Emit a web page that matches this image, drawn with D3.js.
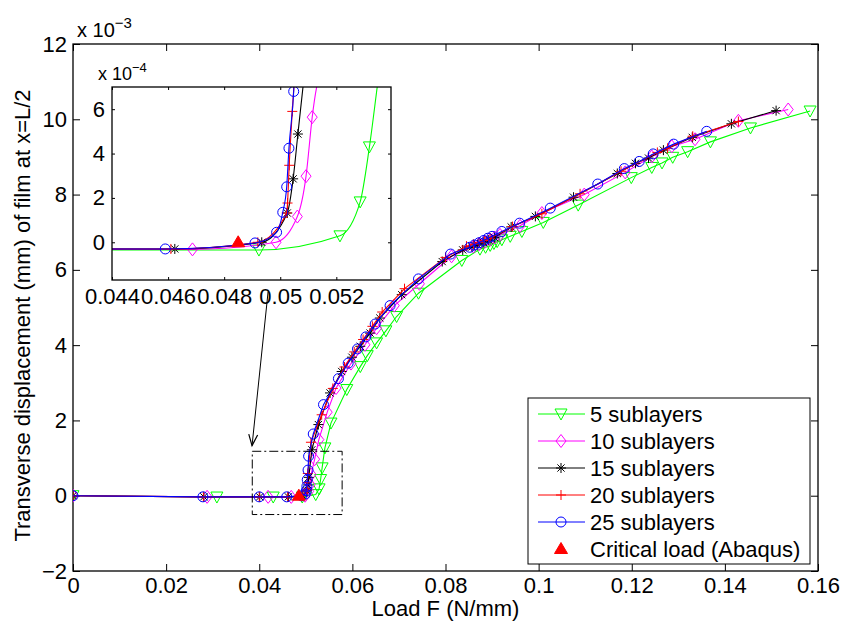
<!DOCTYPE html>
<html>
<head>
<meta charset="utf-8">
<script src="https://cdn.jsdelivr.net/npm/d3@7"></script>
<style>
  body { margin: 0; background: #fff; }
  svg text { font-family: "Liberation Sans", Arial, Helvetica, sans-serif; fill: #000; }
</style>
</head>
<body>
<svg id="chart" width="842" height="626"></svg>
<script>
// ---- Data: load F (N/mm) and mid-span transverse displacement (units of 1e-3 mm) ----
const load5  = [0, 0.0309, 0.0430, 0.04924, 0.05213, 0.05285, 0.05318, 0.0535, 0.0541, 0.0554, 0.0588, 0.0617, 0.0632, 0.0652, 0.0672, 0.0695, 0.0742, 0.0835, 0.0874, 0.0886, 0.0896, 0.0904, 0.0911, 0.0921, 0.0939, 0.0964, 0.1010, 0.1085, 0.1199, 0.1243, 0.1265, 0.1288, 0.1320, 0.1369, 0.1455, 0.1583];
const disp5  = [0, -0.035, -0.035, -0.035, 0.029, 0.182, 0.43, 0.74, 1.27, 1.93, 2.82, 3.43, 3.72, 4.06, 4.38, 4.76, 5.38, 6.25, 6.55, 6.60, 6.65, 6.70, 6.75, 6.80, 6.89, 7.02, 7.26, 7.72, 8.45, 8.72, 8.84, 8.99, 9.14, 9.40, 9.77, 10.22];

const load10 = [0, 0.0288, 0.0419, 0.04687, 0.04985, 0.05061, 0.05092, 0.05114, 0.0519, 0.0528, 0.0546, 0.0565, 0.0597, 0.0627, 0.0652, 0.0690, 0.0744, 0.0813, 0.0860, 0.0872, 0.0884, 0.0896, 0.0906, 0.0917, 0.0960, 0.1007, 0.1098, 0.1186, 0.1243, 0.1286, 0.1336, 0.1429, 0.1536];
const disp10 = [0, -0.03, -0.03, -0.032, 0, 0.116, 0.298, 0.564, 0.97, 1.49, 2.22, 2.86, 3.51, 4.01, 4.45, 5.05, 5.63, 6.36, 6.62, 6.68, 6.74, 6.80, 6.86, 6.93, 7.17, 7.51, 8.00, 8.59, 9.01, 9.28, 9.47, 9.96, 10.26];

const load15 = [0, 0.0281, 0.0401, 0.04624, 0.04934, 0.05025, 0.05046, 0.05063, 0.0513, 0.0527, 0.0552, 0.0577, 0.0599, 0.0617, 0.0638, 0.0659, 0.0706, 0.0793, 0.0837, 0.0857, 0.0869, 0.0881, 0.0893, 0.0905, 0.0941, 0.0993, 0.1075, 0.1169, 0.1208, 0.1236, 0.1268, 0.1330, 0.1414, 0.1510];
const disp15 = [0, -0.03, -0.03, -0.03, 0, 0.132, 0.286, 0.488, 1.22, 1.89, 2.73, 3.30, 3.68, 3.97, 4.32, 4.72, 5.34, 6.22, 6.53, 6.61, 6.67, 6.73, 6.79, 6.86, 7.14, 7.42, 7.93, 8.56, 8.83, 8.97, 9.18, 9.52, 9.88, 10.23];

const load20 = [0, 0.0280, 0.0400, 0.0461, 0.0492, 0.05023, 0.05026, 0.05032, 0.05043, 0.0511, 0.0534, 0.0558, 0.0583, 0.0604, 0.0623, 0.0643, 0.0664, 0.0712, 0.0800, 0.0845, 0.0860, 0.0872, 0.0884, 0.0896, 0.0944, 0.1007, 0.1089, 0.1177, 0.1255, 0.1277, 0.1331, 0.1429];
const disp20 = [0, -0.03, -0.03, -0.03, 0, 0.132, 0.177, 0.347, 0.59, 1.42, 2.15, 2.85, 3.42, 3.82, 4.15, 4.50, 4.88, 5.50, 6.33, 6.63, 6.68, 6.73, 6.78, 6.84, 7.15, 7.49, 8.02, 8.62, 9.12, 9.23, 9.55, 9.94];

const load25 = [0, 0.0279, 0.0400, 0.0459, 0.0491, 0.04987, 0.05009, 0.05023, 0.05031, 0.05048, 0.0506, 0.0516, 0.0538, 0.0570, 0.0591, 0.0611, 0.0629, 0.0649, 0.0681, 0.0742, 0.0811, 0.0852, 0.0862, 0.0872, 0.0882, 0.0891, 0.0900, 0.0921, 0.0959, 0.1025, 0.1127, 0.1184, 0.1216, 0.1246, 0.1290, 0.1361];
const disp25 = [0, -0.03, -0.03, -0.03, -0.003, 0.045, 0.135, 0.25, 0.424, 0.68, 1.05, 1.64, 2.42, 3.11, 3.52, 3.90, 4.22, 4.56, 5.05, 5.76, 6.42, 6.60, 6.66, 6.72, 6.78, 6.84, 6.89, 7.02, 7.24, 7.64, 8.28, 8.69, 8.88, 9.08, 9.34, 9.68];

// Critical buckling load from the Abaqus model
const criticalLoad = [0.0485];
const criticalDisp = [0];

const seriesLabels = ["5 sublayers", "10 sublayers", "15 sublayers", "20 sublayers", "25 sublayers"];
const criticalLabel = "Critical load (Abaqus)";

// Axis ticks
const xTicks = [0, 0.02, 0.04, 0.06, 0.08, 0.1, 0.12, 0.14, 0.16];
const yTicks = [-2, 0, 2, 4, 6, 8, 10, 12];
const insetXTicks = [0.044, 0.046, 0.048, 0.05, 0.052];
const insetYTicks = [0, 0.2, 0.4, 0.6];   // ×1e-3, labelled in units of 1e-4

// Zoom window marked on the main plot (load range, displacement range)
const zoomBoxLoad = [0.0385, 0.0578];
const zoomBoxDisp = [-0.50, 1.18];

// ---- Styles ----
const seriesStyle = [
  { color: "#00ff00", marker: "triangleDown" },
  { color: "#ff00ff", marker: "diamond" },
  { color: "#000000", marker: "star" },
  { color: "#ff0000", marker: "plus" },
  { color: "#0000ff", marker: "circle" }
];

const series = [
  [load5, disp5], [load10, disp10], [load15, disp15], [load20, disp20], [load25, disp25]
].map(([L, D], i) => ({
  label: seriesLabels[i],
  style: seriesStyle[i],
  points: L.map((f, j) => ({ f, d: D[j] }))
}));
const critical = criticalLoad.map((f, j) => ({ f, d: criticalDisp[j] }));

function markerPath(type) {
  switch (type) {
    case "triangleDown": return "M-6,-5L6,-5L0,6Z";
    case "diamond": return "M0,-6.5L5,0L0,6.5L-5,0Z";
    case "star": return "M0,-5V5M-5,0H5M-3.6,-3.6L3.6,3.6M-3.6,3.6L3.6,-3.6";
    case "plus": return "M0,-5V5M-5,0H5";
    case "circle": return "M5,0A5,5 0 1,1 -5,0A5,5 0 1,1 5,0Z";
    case "triangleUp": return "M0,-6.5L6.5,4.5L-6.5,4.5Z";
  }
}

const svg = d3.select("#chart");
const FS = 22;

// ---- Main axes ----
const M = { left: 73, right: 818, top: 44, bottom: 571 };
const x = d3.scaleLinear().domain([0, 0.16]).range([M.left, M.right]);
const y = d3.scaleLinear().domain([-2, 12]).range([M.bottom, M.top]);

svg.append("defs").append("clipPath").attr("id", "clipMain")
  .append("rect").attr("x", M.left).attr("y", M.top)
  .attr("width", M.right - M.left).attr("height", M.bottom - M.top);

const fmt = d3.format("~g");

function drawAxes(g, xs, ys, xt, yt, xfmt, yfmt, tick, padX, padY) {
  const [x0, x1] = xs.range(), [y0, y1] = ys.range();
  g.append("g").attr("transform", `translate(0,${y0})`)
    .call(d3.axisBottom(xs).tickValues(xt).tickFormat(xfmt).tickSize(-tick).tickPadding(padX));
  g.append("g").attr("transform", `translate(${x0},0)`)
    .call(d3.axisLeft(ys).tickValues(yt).tickFormat(yfmt).tickSize(-tick).tickPadding(padY));
  g.append("g").attr("transform", `translate(0,${y1})`)
    .call(d3.axisTop(xs).tickValues(xt).tickFormat("").tickSize(-tick));
  g.append("g").attr("transform", `translate(${x1},0)`)
    .call(d3.axisRight(ys).tickValues(yt).tickFormat("").tickSize(-tick));
  g.selectAll(".domain").remove();
  g.selectAll(".tick line").attr("stroke", "#000").attr("stroke-width", 1);
  g.selectAll(".tick text").attr("font-size", FS).attr("font-family", null).attr("fill", "#000");
  g.append("rect").attr("x", x0).attr("y", y1).attr("width", x1 - x0).attr("height", y0 - y1)
    .attr("fill", "none").attr("stroke", "#000").attr("stroke-width", 1.3);
}

const mainAxes = svg.append("g");
drawAxes(mainAxes, x, y, xTicks, yTicks, fmt, fmt, 7, 6, 6);

function drawSeries(g, xs, ys, curve, clipId) {
  const line = d3.line().x(p => xs(p.f)).y(p => ys(p.d)).curve(curve);
  const layer = g.append("g").attr("clip-path", `url(#${clipId})`);
  series.forEach(s => {
    layer.append("path").datum(s.points).attr("d", line)
      .attr("fill", "none").attr("stroke", s.style.color).attr("stroke-width", 1.1);
    layer.selectAll(null).data(s.points).join("path")
      .attr("transform", p => `translate(${xs(p.f)},${ys(p.d)})`)
      .attr("d", markerPath(s.style.marker))
      .attr("fill", "none").attr("stroke", s.style.color).attr("stroke-width", 1);
  });
  layer.selectAll(null).data(critical).join("path")
    .attr("transform", p => `translate(${xs(p.f)},${ys(p.d)})`)
    .attr("d", markerPath("triangleUp"))
    .attr("fill", "#ff0000").attr("stroke", "#ff0000");
}

drawSeries(svg.append("g"), x, y, d3.curveLinear, "clipMain");

// exponent tag on the main y axis
const tagMain = svg.append("text").attr("x", 77).attr("y", 37).attr("font-size", 20);
tagMain.append("tspan").text("x 10");
tagMain.append("tspan").attr("dy", -9).attr("font-size", 15).text("\u22123");

// axis titles
svg.append("text").attr("x", (M.left + M.right) / 2).attr("y", 616)
  .attr("text-anchor", "middle").attr("font-size", FS).text("Load F (N/mm)");
svg.append("text").attr("transform", `translate(30,${(M.top + M.bottom) / 2 + 8}) rotate(-90)`)
  .attr("text-anchor", "middle").attr("font-size", FS)
  .text("Transverse displacement (mm) of film at x=L/2");

// zoom window and arrow
svg.append("rect")
  .attr("x", x(zoomBoxLoad[0])).attr("y", y(zoomBoxDisp[1]))
  .attr("width", x(zoomBoxLoad[1]) - x(zoomBoxLoad[0]))
  .attr("height", y(zoomBoxDisp[0]) - y(zoomBoxDisp[1]))
  .attr("fill", "none").attr("stroke", "#000").attr("stroke-width", 1)
  .attr("stroke-dasharray", "9,3,2,3");

const arrowFrom = [0.0419, 5.42], arrowTo = [0.03845, 1.33];
{
  const x0 = x(arrowFrom[0]), y0 = y(arrowFrom[1]), x1 = x(arrowTo[0]), y1 = y(arrowTo[1]);
  svg.append("line").attr("x1", x0).attr("y1", y0).attr("x2", x1).attr("y2", y1)
    .attr("stroke", "#000").attr("stroke-width", 1);
  const ang = Math.atan2(y1 - y0, x1 - x0);
  const len = 12, spread = 0.38;
  const p1 = [x1 - len * Math.cos(ang - spread), y1 - len * Math.sin(ang - spread)];
  const p2 = [x1 - len * Math.cos(ang + spread), y1 - len * Math.sin(ang + spread)];
  svg.append("path").attr("d", `M${p1}L${x1},${y1}L${p2}`)
    .attr("fill", "none").attr("stroke", "#000").attr("stroke-width", 1.2);
}

// ---- Legend ----
const leg = svg.append("g");
const LG = { x: 528, y: 398, w: 282, h: 166, row: 27, first: 414 };
leg.append("rect").attr("x", LG.x).attr("y", LG.y).attr("width", LG.w).attr("height", LG.h)
  .attr("fill", "#fff").attr("stroke", "#000").attr("stroke-width", 1);
series.forEach((s, i) => {
  const cy = LG.first + i * LG.row;
  leg.append("line").attr("x1", 538).attr("x2", 585).attr("y1", cy).attr("y2", cy)
    .attr("stroke", s.style.color).attr("stroke-width", 1);
  leg.append("path").attr("transform", `translate(561,${cy})`).attr("d", markerPath(s.style.marker))
    .attr("fill", "none").attr("stroke", s.style.color);
  leg.append("text").attr("x", 590).attr("y", cy).attr("dy", "0.35em")
    .attr("font-size", FS).text(s.label);
});
{
  const cy = LG.first + series.length * LG.row;
  leg.append("path").attr("transform", `translate(561,${cy})`).attr("d", markerPath("triangleUp"))
    .attr("fill", "#ff0000").attr("stroke", "#ff0000");
  leg.append("text").attr("x", 590).attr("y", cy).attr("dy", "0.35em")
    .attr("font-size", FS).text(criticalLabel);
}

// ---- Inset: close-up of the onset of buckling ----
const I = { left: 112, right: 391, top: 87, bottom: 280 };
const xi = d3.scaleLinear().domain([0.044, 0.05395]).range([I.left, I.right]);
const yi = d3.scaleLinear().domain([-0.17, 0.70]).range([I.bottom, I.top]);

svg.select("defs").append("clipPath").attr("id", "clipInset")
  .append("rect").attr("x", I.left).attr("y", I.top)
  .attr("width", I.right - I.left).attr("height", I.bottom - I.top);

const inset = svg.append("g");
inset.append("rect").attr("x", I.left).attr("y", I.top)
  .attr("width", I.right - I.left).attr("height", I.bottom - I.top).attr("fill", "#fff");
drawSeries(inset, xi, yi, d3.curveMonotoneX, "clipInset");
drawAxes(inset, xi, yi, insetXTicks, insetYTicks, fmt, v => fmt(Math.round(v * 10)), 3, 8, 7);

const tagInset = svg.append("text").attr("x", 98).attr("y", 80).attr("font-size", 18);
tagInset.append("tspan").text("x 10");
tagInset.append("tspan").attr("dy", -8).attr("font-size", 13).text("\u22124");
</script>
</body>
</html>
